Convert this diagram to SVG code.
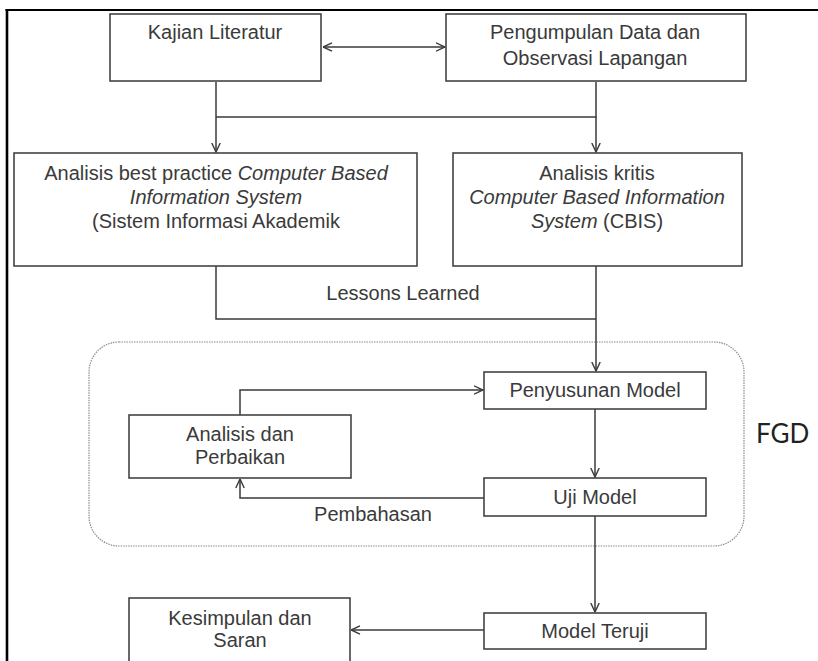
<svg xmlns="http://www.w3.org/2000/svg" width="818" height="661" viewBox="0 0 818 661">
<defs>
<marker id="arr" viewBox="0 0 10 10" refX="9.5" refY="5" markerWidth="10" markerHeight="10" markerUnits="userSpaceOnUse" orient="auto-start-reverse">
<path d="M0.5,0.8 L9.5,5 L0.5,9.2" fill="none" stroke="#3a3a3a" stroke-width="1.4"/>
</marker>
</defs>
<style>
.box{fill:#fff;stroke:#444;stroke-width:1.6}
.t{font-family:"Liberation Sans",Arial,sans-serif;font-size:20px;fill:#3a3a3a;text-anchor:middle}
.c{fill:none;stroke:#3a3a3a;stroke-width:1.5}
.ca{fill:none;stroke:#3a3a3a;stroke-width:1.5;marker-end:url(#arr)}
</style>
<rect x="0" y="0" width="818" height="661" fill="#fff"/>
<g id="frame">
<line x1="5.5" y1="10" x2="818" y2="10" stroke="#000" stroke-width="2.2"/>
<line x1="7" y1="9" x2="7" y2="661" stroke="#000" stroke-width="2.6"/>
</g>
<g id="fgd">
<rect x="89" y="342" width="655" height="204" rx="30" ry="30" fill="none" stroke="#8a8a8a" stroke-width="1.2" stroke-dasharray="1.5 1"/>
<text x="756" y="443" style="font-family:Lato,'Open Sans',sans-serif;font-size:26px;fill:#222">FGD</text>
</g>
<g id="connectors">
<line class="c" x1="323" y1="47" x2="445" y2="47" marker-start="url(#arr)" marker-end="url(#arr)"/>
<path class="ca" d="M216,82 V152"/>
<path class="c" d="M216,117 H596 V82"/>
<path class="ca" d="M596,117 V152"/>
<path class="c" d="M216,266 V319 H596"/>
<path class="ca" d="M596,266 V371"/>
<path class="ca" d="M595,409 V477"/>
<path class="ca" d="M484,498 H240 V479"/>
<path class="ca" d="M240,415 V390 H483"/>
<path class="ca" d="M595,516 V612"/>
<path class="ca" d="M484,630 H351"/>
<text class="t" x="403" y="300">Lessons Learned</text>
<text class="t" x="373" y="521">Pembahasan</text>
</g>
<g id="kajian">
<rect class="box" x="110" y="14" width="211" height="67"/>
<text class="t" x="215" y="39">Kajian Literatur</text>
</g>
<g id="pengumpulan">
<rect class="box" x="446" y="14" width="300" height="67"/>
<text class="t" x="595" y="39">Pengumpulan Data dan</text>
<text class="t" x="595" y="65">Observasi Lapangan</text>
</g>
<g id="best-practice">
<rect class="box" x="14" y="153" width="403" height="113"/>
<text class="t" x="216" y="180">Analisis best practice <tspan font-style="italic">Computer Based</tspan></text>
<text class="t" x="216" y="204" font-style="italic">Information System</text>
<text class="t" x="216" y="228">(Sistem Informasi Akademik</text>
</g>
<g id="kritis">
<rect class="box" x="453" y="153" width="289" height="113"/>
<text class="t" x="597" y="180">Analisis kritis</text>
<text class="t" x="597" y="204" font-style="italic">Computer Based Information</text>
<text class="t" x="597" y="228"><tspan font-style="italic">System</tspan> (CBIS)</text>
</g>
<g id="penyusunan">
<rect class="box" x="484" y="372" width="222" height="37"/>
<text class="t" x="595" y="397">Penyusunan Model</text>
</g>
<g id="analisis-perbaikan">
<rect class="box" x="129" y="415" width="222" height="63"/>
<text class="t" x="240" y="441">Analisis dan</text>
<text class="t" x="240" y="464">Perbaikan</text>
</g>
<g id="uji">
<rect class="box" x="484" y="478" width="222" height="38"/>
<text class="t" x="595" y="504">Uji Model</text>
</g>
<g id="teruji">
<rect class="box" x="484" y="613" width="222" height="36"/>
<text class="t" x="595" y="638">Model Teruji</text>
</g>
<g id="kesimpulan">
<rect class="box" x="129" y="598" width="221" height="80"/>
<text class="t" x="240" y="625">Kesimpulan dan</text>
<text class="t" x="240" y="647">Saran</text>
</g>
</svg>
